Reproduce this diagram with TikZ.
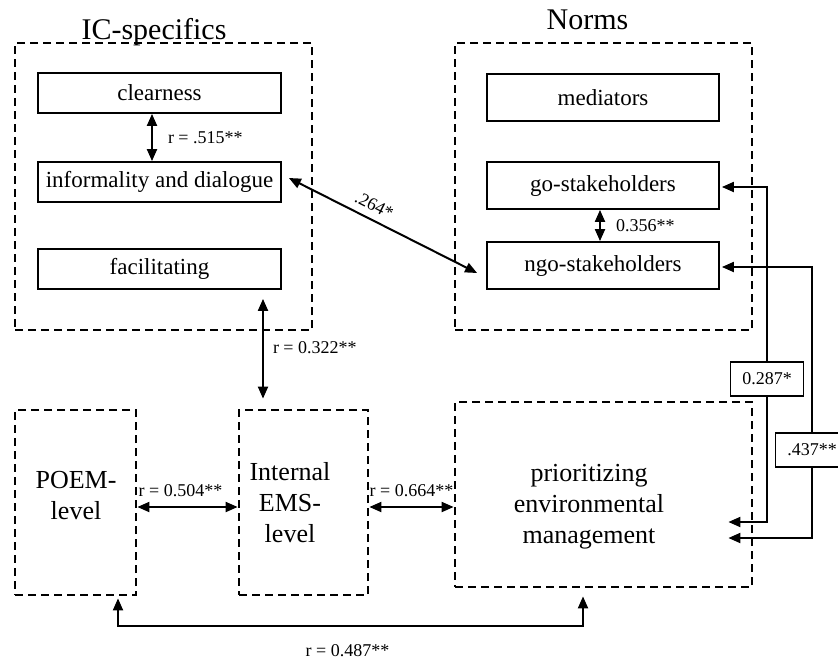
\documentclass[tikz,border=0pt]{standalone}
\usepackage{fontspec}
\setmainfont{Liberation Serif}
\usetikzlibrary{arrows.meta}
\tikzset{
  box/.style={draw, line width=1.8pt, inner sep=0pt, minimum width=243, font=\fontsize{23}{28}\selectfont},
  grp/.style={draw, line width=2.8pt, dash pattern=on 8pt off 5pt, inner sep=0pt},
  lbl/.style={font=\fontsize{18}{22}\selectfont, inner sep=2pt},
  lblbox/.style={draw, fill=white, line width=1.8pt, minimum width=73, minimum height=34, inner sep=0pt, font=\fontsize{18}{22}\selectfont},
  big/.style={align=center, font=\fontsize{26}{31}\selectfont},
  ttl/.style={anchor=base, font=\fontsize{30}{36}\selectfont},
  link/.style={line width=2pt}
}
\begin{document}
\begin{tikzpicture}[x=1pt, y=-1pt, >={Triangle[length=12pt, width=10pt]}]
                \useasboundingbox (0,0) rectangle (838,659);
                \node [grp, minimum width=297, minimum height=287] (ic) at (163.5,186.5) {};
                \node [grp, minimum width=297, minimum height=287] (norms) at (603.5,186.5) {};
                \node [ttl] (ictitle) at (154,39) {IC-specifics};
                \node [ttl] (normstitle) at (587.5,29) {Norms};
                \node [box, minimum height=40] (clear) at (159.5,93) {clearness};
                \node [box, minimum height=40] (inform) at (159.5,182) {informality and dialogue};
                \node [box, minimum height=40] (facil) at (159.5,269) {facilitating};
                \node [box, minimum width=232, minimum height=47] (medi) at (603,97.5) {mediators};
                \node [box, minimum width=232, minimum height=47] (gost) at (603,185.5) {go-stakeholders};
                \node [box, minimum width=232, minimum height=47] (ngost) at (603,265.5) {ngo-stakeholders};
                \node [grp, minimum width=121, minimum height=185] (poem) at (75.5,502.5) {};
                \node [grp, minimum width=129, minimum height=185] (ems) at (303.5,502.5) {};
                \node [grp, minimum width=297, minimum height=185] (prio) at (603.5,494.5) {};
                \node [big] (poemtxt) at (76,496) {POEM-\\level};
                \node [big] (emstxt) at (290,503) {Internal\\EMS-\\level};
                \node [big] (priotxt) at (589,507) {prioritizing\\environmental\\management};
                \node [lblbox] (r287) at (767,379) {0.287*};
                \node [lblbox] (r437) at (812,450) {.437**};
                \draw [link, <->] ([xshift=-7.5pt]clear.south) -- node [lbl, right=13pt] {r = .515**} ([xshift=-7.5pt]inform.north);
                \draw [link, <->] ([xshift=7pt, yshift=4pt]inform.east) -- node [lbl, sloped, above=5pt, pos=0.42] {.264*} ([xshift=-9pt, yshift=-7.5pt]ngost.west);
                \draw [link, <->] ([xshift=-3pt]gost.south) -- node [lbl, right=13pt] {0.356**} ([xshift=-3pt]ngost.north);
                \draw [link, <->] ([xshift=103.5pt, yshift=-9pt]facil.south) -- node [lbl, right=7pt, pos=0.49] {r = 0.322**} ([xshift=-40.5pt, yshift=10pt]ems.north);
                \draw [link, <->] ([yshift=-4.5pt]poem.east) -- node [lbl, above=7pt, xshift=-7pt] {r = 0.504**} ([yshift=-4.5pt]ems.west);
                \draw [link, <->] ([yshift=-4.5pt]ems.east) -- node [lbl, above=7pt] {r = 0.664**} ([yshift=-4.5pt]ems.east -| prio.west);
                \draw [link, <->] ([xshift=42.5pt, yshift=-2pt]poem.south) -- ++(0,28) -| node [lbl, below=15pt, pos=0.25, xshift=-3pt] {r = 0.487**} ([xshift=-20.5pt, yshift=-8pt]prio.south);
                \draw [link, ->] (r287.north) |- ([xshift=2pt, yshift=-1.5pt]gost.east);
                \draw [link, ->] (r287.south) |- ([xshift=-25pt, yshift=-27.5pt]prio.east);
                \draw [link, ->] (r437.north) |- ([xshift=2pt, yshift=-1.5pt]ngost.east);
                \draw [link, ->] (r437.south) |- ([xshift=-25pt, yshift=-43.5pt]prio.east);
            \end{tikzpicture}
\end{document}
